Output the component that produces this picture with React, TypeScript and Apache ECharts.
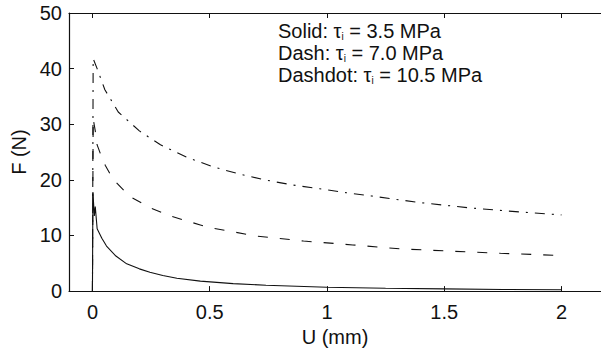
import React, { useEffect, useRef } from "react";
import * as echarts from "echarts";

// Pull-out force F (N) against displacement U (mm), [U, F] pairs
const solidData: [number, number][] = [
  [0, 0], [0.002, 17.8], [0.008, 13.5], [0.012, 15.2], [0.02, 11.2], [0.04, 9.5],
  [0.06, 8.1], [0.1, 6.3], [0.146, 4.9], [0.2, 4.0], [0.245, 3.4], [0.3, 2.8],
  [0.36, 2.3], [0.46, 1.8], [0.6, 1.35], [0.74, 1.05], [1.0, 0.7], [1.25, 0.5],
  [1.5, 0.4], [1.75, 0.3], [2.0, 0.25],
];
const dashData: [number, number][] = [
  [0, 0], [0.003, 31], [0.012, 28.8], [0.02, 26.3], [0.04, 24], [0.055, 22.6],
  [0.088, 20.1], [0.16, 17.0], [0.245, 15.0], [0.34, 13.4], [0.46, 11.9], [0.5, 11.4],
  [0.7, 9.9], [0.9, 9.0], [1.11, 8.3], [1.31, 7.6], [1.52, 7.2], [1.74, 6.8], [2.0, 6.4],
];
const dashdotData: [number, number][] = [
  [0, 0], [0.003, 41.8], [0.02, 40], [0.053, 36.2], [0.11, 32.2], [0.2, 28.8],
  [0.29, 26.3], [0.4, 24.1], [0.51, 22.4], [0.63, 21.0], [0.735, 20.0], [0.85, 19.1],
  [0.97, 18.4], [1.08, 17.7], [1.19, 17.1], [1.31, 16.4], [1.4, 15.9], [1.6, 15.0],
  [1.77, 14.4], [2.0, 13.7],
];

const xTicks = [0, 0.5, 1, 1.5, 2];
const legendLines = [
  { style: "Solid", value: "3.5" },
  { style: "Dash", value: "7.0" },
  { style: "Dashdot", value: "10.5" },
];

const FONT = "'Liberation Sans', Arial, Helvetica, sans-serif";
const INK = "#111";
const FS = 20;

export default function App() {
  const ref = useRef<HTMLDivElement>(null);

  useEffect(() => {
    if (!ref.current) return;
    const chart = echarts.init(ref.current, undefined, { renderer: "svg" });

    const lineSeries = (data: [number, number][], type: any) => ({
      type: "line",
      data,
      showSymbol: false,
      smooth: false,
      lineStyle: { color: INK, width: 1.1, type },
      z: 3,
    });

    // the x range runs on past 2 up to the right edge of the page
    const xCommon = {
      type: "value",
      min: -0.1,
      max: 2.1687,
      axisLine: { show: true, onZero: false, lineStyle: { color: INK, width: 1.2 } },
      axisTick: { show: true, inside: true, length: 5, customValues: xTicks, lineStyle: { color: INK, width: 1 } },
      splitLine: { show: false },
    };

    chart.setOption({
      animation: false,
      grid: { left: 69, top: 13, width: 532, height: 283 },
      xAxis: [
        {
          ...xCommon,
          position: "bottom",
          name: "U (mm)",
          nameLocation: "middle",
          nameGap: 30,
          nameTextStyle: { fontSize: FS, color: INK, fontFamily: FONT },
          axisLabel: { customValues: xTicks, fontSize: FS, color: INK, margin: 11, fontFamily: FONT },
        },
        {
          ...xCommon,
          position: "top",
          axisLabel: { show: false },
        },
      ],
      yAxis: {
        type: "value",
        min: 0,
        max: 50,
        interval: 10,
        position: "left",
        name: "F (N)",
        nameLocation: "middle",
        nameGap: 38,
        nameTextStyle: { fontSize: FS, color: INK, fontFamily: FONT },
        axisLine: { show: true, onZero: false, lineStyle: { color: INK, width: 1.2 } },
        axisTick: { show: true, inside: true, length: 5, lineStyle: { color: INK, width: 1 } },
        axisLabel: { fontSize: FS, color: INK, margin: 7, fontFamily: FONT },
        splitLine: { show: false },
      },
      graphic: legendLines.map((l, i) => ({
        type: "text",
        left: 278,
        top: 21 + i * 22,
        z: 10,
        style: {
          text: `${l.style}: {t|τ}{s|i} = ${l.value} MPa`,
          fill: INK,
          font: `${FS}px ${FONT}`,
          rich: {
            t: { fontSize: FS, fontFamily: FONT, fill: INK },
            s: { fontSize: 10, fontFamily: FONT, fill: INK, verticalAlign: "bottom", padding: [7, 0, 0, 0] },
          },
        },
      })),
      series: [
        lineSeries(solidData, "solid"),
        lineSeries(dashData, [10, 12]),
        lineSeries(dashdotData, [10, 7, 2, 7]),
      ],
    });

    return () => chart.dispose();
  }, []);

  return (
    <div
      ref={ref}
      style={{ position: "absolute", left: 0, top: 0, width: 601, height: 352 }}
    />
  );
}
